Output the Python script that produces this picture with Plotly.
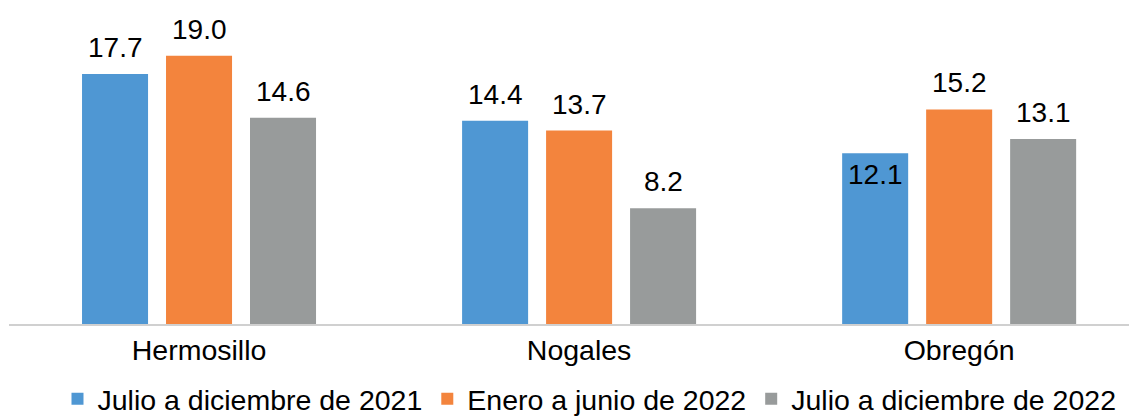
import plotly.graph_objects as go

categories = ["Hermosillo", "Nogales", "Obregón"]
series_names = ["Julio a diciembre de 2021", "Enero a junio de 2022", "Julio a diciembre de 2022"]
s2021_h2 = [17.7, 14.4, 12.1]
s2022_h1 = [19.0, 13.7, 15.2]
s2022_h2 = [14.6, 8.2, 13.1]
series_values = [s2021_h2, s2022_h1, s2022_h2]
colors = ["#4F97D3", "#F3843D", "#989B9B"]

FONT = "Liberation Sans, Arial, Helvetica, sans-serif"
BARGAP = 0.337
W, H = 1137, 416

fig = go.Figure()
for name, vals, col in zip(series_names, series_values, colors):
    fig.add_trace(go.Bar(x=categories, y=vals, name=name, marker_color=col,
                         marker_line_width=0))

# data labels
inside = {(2, 0)}  # (category index, series index) labels drawn inside bar top
slot = (1 - BARGAP) / 3
for j, vals in enumerate(series_values):
    for i, v in enumerate(vals):
        fig.add_annotation(x=i + (j - 1) * slot, y=v, xref="x", yref="y",
                           text=f"{v:.1f}", showarrow=False,
                           yanchor="middle", xanchor="center",
                           yshift=-21.5 if (i, j) in inside else 26.5,
                           font=dict(family=FONT, size=28, color="#000000"))

fig.update_layout(
    width=W, height=H,
    margin=dict(l=1, r=0, t=0, b=100, autoexpand=False),
    paper_bgcolor="white", plot_bgcolor="white",
    barmode="group", bargap=BARGAP, bargroupgap=0.214,
    font=dict(family=FONT, size=28, color="#000000"),
    showlegend=True,
    legend=dict(orientation="h", x=0.511, xanchor="center", y=-0.238, yanchor="middle",
                font=dict(family=FONT, size=28.5, color="#000000"),
                itemwidth=30, bgcolor="rgba(0,0,0,0)"),
    xaxis=dict(type="category", range=[-0.5, 2.489], showline=True, linecolor="#D0D0D0",
               linewidth=2, ticks="", showgrid=False, zeroline=False,
               tickfont=dict(family=FONT, size=28.5, color="#000000")),
    yaxis=dict(range=[0, 22.38], visible=False, showgrid=False, zeroline=False),
)

fig.write_html("out.html")
